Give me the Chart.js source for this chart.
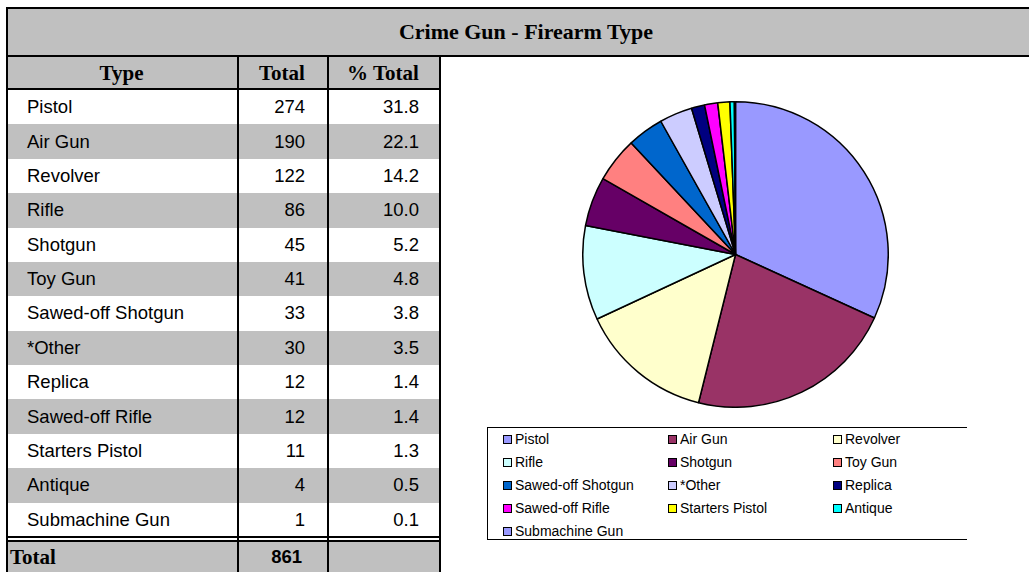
<!DOCTYPE html>
<html>
<head>
<meta charset="utf-8">
<script src="https://cdn.jsdelivr.net/npm/chart.js@4/dist/chart.umd.min.js"></script>
<style>
  html, body { margin: 0; padding: 0; background: #fff; width: 1029px; height: 572px; overflow: hidden; }
  .abs { position: absolute; box-sizing: border-box; }
  .title { font-family: "Liberation Serif", "Times New Roman", serif; font-weight: bold; font-size: 22px; }
  .head { font-family: "Liberation Serif", "Times New Roman", serif; font-weight: bold; font-size: 21px; }
  .cell { font-family: "Liberation Sans", Arial, sans-serif; font-size: 18.5px; color: #000; }
  .leg { font-family: "Liberation Sans", Arial, sans-serif; font-size: 14px; color: #000; white-space: nowrap; }
</style>
</head>
<body>
<div id="page"></div>
<div class="abs" style="left:582px; top:101px; width:307px; height:307px;">
  <canvas id="pieChart" width="307" height="307"></canvas>
</div>
<script>
// Data
const types = ["Pistol", "Air Gun", "Revolver", "Rifle", "Shotgun", "Toy Gun", "Sawed-off Shotgun",
               "*Other", "Replica", "Sawed-off Rifle", "Starters Pistol", "Antique", "Submachine Gun"];
const totals = [274, 190, 122, 86, 45, 41, 33, 30, 12, 12, 11, 4, 1];
const pctTotals = ["31.8", "22.1", "14.2", "10.0", "5.2", "4.8", "3.8", "3.5", "1.4", "1.4", "1.3", "0.5", "0.1"];
const grandTotal = "861";
const sliceColors = ["#9999FF", "#993366", "#FFFFCC", "#CCFFFF", "#660066", "#FF8080", "#0066CC",
                     "#CCCCFF", "#000080", "#FF00FF", "#FFFF00", "#00FFFF", "#9999FF"];

const page = document.getElementById("page");
function box(style, cls, text) {
    const d = document.createElement("div");
    d.className = "abs " + (cls || "");
    d.style.cssText = style;
    if (text !== undefined) d.textContent = text;
    page.appendChild(d);
    return d;
}

// Title bar
box("left:6px; top:7px; width:1040px; height:50px; background:#C0C0C0; border-top:2px solid #000; border-left:2px solid #000; border-bottom:2px solid #000;");
box("left:6px; top:7px; width:1040px; height:50px; display:flex; align-items:center; justify-content:center;", "title", "Crime Gun - Firearm Type");

// Table geometry
const colX = [6, 237, 327, 439];
const headTop = 57, headBot = 90, rowH = (537 - 90) / types.length;

// Header row
box(`left:6px; top:${headTop}px; width:${colX[3] - 6}px; height:${headBot - headTop}px; background:#C0C0C0; border-bottom:2px solid #000;`);
["Type", "Total", "% Total"].forEach((h, i) => {
    box(`left:${colX[i]}px; top:${headTop}px; width:${colX[i + 1] - colX[i]}px; height:${headBot - headTop - 1}px; display:flex; align-items:center; justify-content:center;`, "head", h);
});

// Body rows
types.forEach((t, i) => {
    const y = headBot + i * rowH;
    if (i % 2 === 1) box(`left:6px; top:${y}px; width:${colX[3] - 6}px; height:${rowH}px; background:#C0C0C0;`);
    box(`left:${colX[0] + 21}px; top:${y}px; height:${rowH}px; display:flex; align-items:center;`, "cell", t);
    box(`left:${colX[1]}px; top:${y}px; width:${colX[2] - colX[1] - 22}px; height:${rowH}px; display:flex; align-items:center; justify-content:flex-end;`, "cell", totals[i]);
    box(`left:${colX[2]}px; top:${y}px; width:${colX[3] - colX[2] - 20}px; height:${rowH}px; display:flex; align-items:center; justify-content:flex-end;`, "cell", pctTotals[i]);
});

// Double line + total row
box(`left:6px; top:536px; width:${colX[3] - 6}px; height:2px; background:#000;`);
box(`left:6px; top:540px; width:${colX[3] - 6}px; height:2px; background:#000;`);
box(`left:6px; top:542px; width:${colX[3] - 6}px; height:40px; background:#C0C0C0;`);
box(`left:10px; top:542px; height:30px; display:flex; align-items:center;`, "head", "Total");
box(`left:${colX[1]}px; top:542px; width:${colX[2] - colX[1] - 25}px; height:30px; display:flex; align-items:center; justify-content:flex-end; font-weight:bold;`, "cell", grandTotal);

// Vertical lines
colX.forEach((x) => {
    box(`left:${x}px; top:${headTop}px; width:2px; height:${572 - headTop}px; background:#000;`);
});

// Legend box
box("left:487px; top:427px; width:480px; height:113px; border-left:1px solid #000; border-top:1px solid #000; border-bottom:1px solid #000;");
const legCols = [503, 668, 833];
types.forEach((t, i) => {
    const x = legCols[i % 3];
    const y = 439 + Math.floor(i / 3) * 23;
    box(`left:${x}px; top:${y - 4.5}px; width:9px; height:9px; background:${sliceColors[i]}; border:1.5px solid #000;`);
    box(`left:${x + 12}px; top:${y - 9}px; height:18px; line-height:18px;`, "leg", t);
});

// Pie chart
new Chart(document.getElementById("pieChart").getContext("2d"), {
    type: "pie",
    data: {
        labels: types,
        datasets: [{
            data: totals,
            backgroundColor: sliceColors,
            borderColor: "#000",
            borderWidth: 1.5
        }]
    },
    options: {
        responsive: false,
        animation: false,
        events: [],
        plugins: { legend: { display: false }, tooltip: { enabled: false } },
        layout: { padding: 0 }
    }
});
</script>
</body>
</html>
